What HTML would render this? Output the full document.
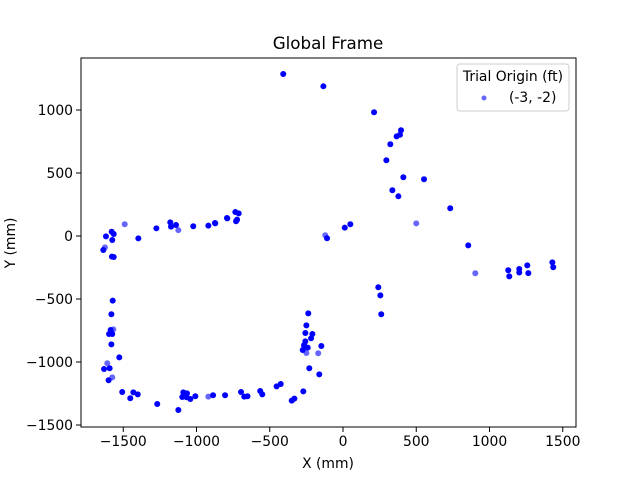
<!DOCTYPE html>
<html><head><meta charset="utf-8"><style>
body{margin:0;background:#fff;font-family:"Liberation Sans","DejaVu Sans",sans-serif}
svg text{font-family:"DejaVu Sans","Liberation Sans",sans-serif}
</style></head><body>
<svg id="chart" width="640" height="480" xmlns="http://www.w3.org/2000/svg">
<rect width="640" height="480" fill="#fff"/>
<text x="328" y="49" font-size="16.7" text-anchor="middle">Global Frame</text>
<g id="ticks"></g>
<g id="points"></g>
<rect x="81" y="58" width="495" height="369" fill="none" stroke="#000" stroke-width="1"/>
<text x="328" y="468" font-size="13.9" text-anchor="middle">X (mm)</text>
<text x="15" y="243" font-size="13.9" text-anchor="middle" transform="rotate(-90 15 243)">Y (mm)</text>
<g>
<rect x="457" y="64" width="112" height="47" rx="3" fill="#fff" fill-opacity="0.8" stroke="#ccc"/>
<text x="513" y="81" font-size="13.9" text-anchor="middle">Trial Origin (ft)</text>
<circle cx="484" cy="98" r="2.5" fill="#0000ff" fill-opacity="0.6"/>
<text x="509" y="102" font-size="13.9">(-3, -2)</text>
</g>
</svg>
<script>
const xTicks=[-1500,-1000,-500,0,500,1000,1500];
const yTicks=[-1500,-1000,-500,0,500,1000];
const xs=[-408,-134,212,396,366,389,323,296,412,553,337,378,732,500,855,903,1128,1135,1203,1203,1258,1265,1429,1435,241,255,261,12,50,-121,-109,
-919,-874,-790,-735,-712,-730,-723,
-1490,-1579,-1565,-1618,-1575,-1397,-1625,-1636,-1577,-1565,-1274,-1179,-1174,-1140,-1124,-1022,-872,-792,
-1572,-1581,-1586,-1568,-1597,-1575,-1581,-1527,-1609,-1631,-1593,-1600,-1575,
-1507,-1452,-1431,-1401,-1268,-1124,-1090,-1097,-1065,-1067,-1042,-1008,-919,-887,-805,-696,-674,-652,-565,-551,-453,-425,-350,-332,-271,
-237,-250,-257,-209,-218,-257,-266,-241,-275,-250,-148,-169,-230,-162];
const ys=[1286,1188,982,839,791,804,728,601,466,450,363,315,220,100,-74,-296,-272,-320,-262,-290,-233,-295,-209,-248,-407,-471,-621,66,93,6,-18,
82,103,140,190,180,117,130,
93,34,16,-3,-32,-19,-90,-111,-164,-167,61,108,74,87,47,77,100,143,
-513,-621,-746,-741,-778,-778,-860,-963,-1010,-1056,-1050,-1145,-1122,
-1238,-1288,-1241,-1257,-1333,-1381,-1241,-1278,-1249,-1280,-1294,-1272,-1275,-1264,-1264,-1238,-1275,-1272,-1230,-1257,-1193,-1175,-1307,-1291,-1233,
-614,-709,-770,-778,-812,-836,-867,-886,-905,-929,-873,-931,-1050,-1098];
const faded=[13,15,29,38,44,52,59,64,68,81,103,105,112];
const X=v=>343+v*0.1465, Y=v=>236-v*0.126;
const ns="http://www.w3.org/2000/svg";
const tg=document.getElementById('ticks');
xTicks.forEach(t=>{
 const l=document.createElementNS(ns,'line');
 l.setAttribute('x1',X(t));l.setAttribute('x2',X(t));l.setAttribute('y1',427);l.setAttribute('y2',432);l.setAttribute('stroke','#000');
 
 
 tg.appendChild(l);
 const s=document.createElementNS(ns,'text');
 s.setAttribute('x',X(t));s.setAttribute('y',446);s.setAttribute('font-size','13.9');s.setAttribute('text-anchor','middle');
 s.textContent=t<0?'\u2212'+(-t):t;
 
 
 tg.appendChild(s);
});
yTicks.forEach(t=>{
 const l=document.createElementNS(ns,'line');
 l.setAttribute('x1',76);l.setAttribute('x2',81);l.setAttribute('y1',Y(t));l.setAttribute('y2',Y(t));l.setAttribute('stroke','#000');
 
 
 tg.appendChild(l);
 const s=document.createElementNS(ns,'text');
 s.setAttribute('x',73);s.setAttribute('y',Y(t)+5);s.setAttribute('font-size','13.9');s.setAttribute('text-anchor','end');
 s.textContent=t<0?'\u2212'+(-t):t;
 
 
 tg.appendChild(s);
});
const pg=document.getElementById('points');
xs.forEach((x,i)=>{
 const c=document.createElementNS(ns,'circle');
 c.setAttribute('cx',X(x));c.setAttribute('cy',Y(ys[i]));c.setAttribute('r',3);
 c.setAttribute('fill','#0000ff');c.setAttribute('fill-opacity',faded.includes(i)?0.6:1);
 
 
 pg.appendChild(c);
});
</script>
</body></html>
